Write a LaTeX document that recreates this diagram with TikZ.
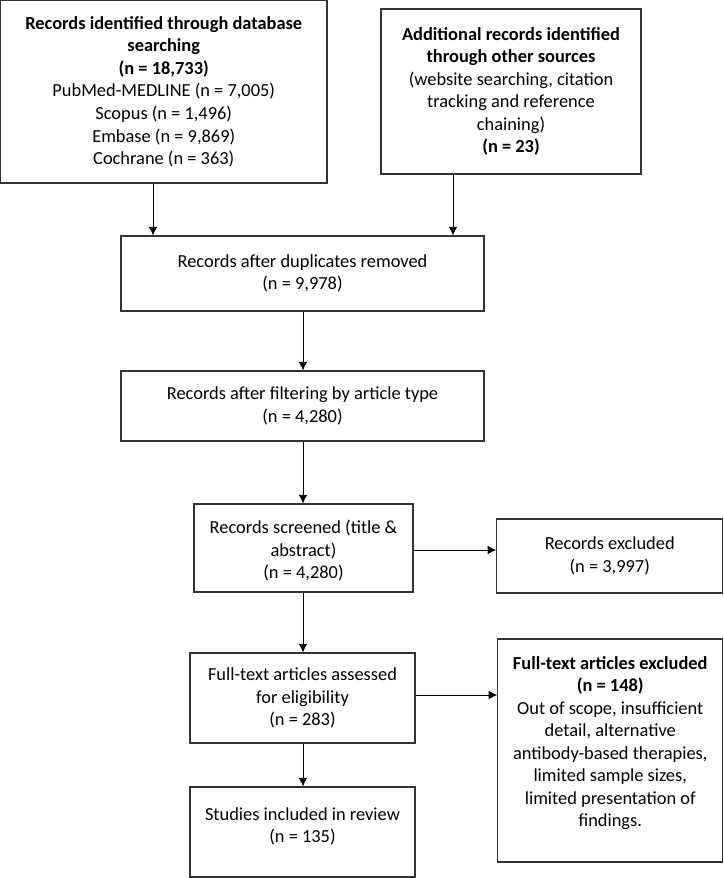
\documentclass[tikz,border=0pt]{standalone}
\usepackage{fontspec}
\setmainfont{Carlito}
\usetikzlibrary{arrows.meta}
\begin{document}
\begin{tikzpicture}[x=0.75pt, y=-0.75pt, >={Latex[length=6.5pt,width=6.5pt]},
    box/.style={draw=black!80, line width=0.8pt, align=center, inner sep=0pt,
        font=\fontsize{13.8}{16.9}\selectfont},
    flow/.style={->, line width=0.7pt}]
\useasboundingbox (0,0) rectangle (724,878);

% top row
\node[box, minimum width=244.9pt, minimum height=136.9pt] (db) at (163.75,91.75)
    {\textbf{Records identified through database}\\\textbf{searching}\\\textbf{(n = 18,733)}\\
     PubMed-MEDLINE (n = 7,005)\\Scopus (n = 1,496)\\Embase (n = 9,869)\\Cochrane (n = 363)};
\node[box, minimum width=195pt, minimum height=123.75pt] (other) at (511,91.5)
    {\textbf{Additional records identified}\\\textbf{through other sources}\\
     (website searching, citation\\tracking and reference\\chaining)\\\textbf{(n = 23)}};

% main column
\node[box, minimum width=272.25pt, minimum height=56.25pt] (dup) at (302.5,273.5)
    {Records after duplicates removed\\(n = 9,978)};
\node[box, minimum width=272.25pt, minimum height=52.5pt] (filt) at (302.5,406)
    {Records after filtering by article type\\(n = 4,280)};
\node[box, minimum width=164.25pt, minimum height=66pt] (scr) at (303.5,548)
    {Records screened (title \&\\abstract)\\(n = 4,280)\\[-19pt]};
\node[box, minimum width=168.75pt, minimum height=67.5pt] (full) at (302.5,698)
    {Full-text articles assessed\\for eligibility\\(n = 283)};
\node[box, minimum width=168.75pt, minimum height=67.5pt] (incl) at (302.5,832)
    {Studies included in review\\(n = 135)\\[-6.5pt]};

% exclusions
\node[box, minimum width=169.5pt, minimum height=55.5pt] (exc) at (609.75,556)
    {Records excluded\\(n = 3,997)};
\node[box, minimum width=168.75pt, minimum height=167.25pt] (ftexc) at (610.25,750.5)
    {\textbf{Full-text articles excluded}\\\textbf{(n = 148)}\\Out of scope, insufficient\\detail, alternative\\
     antibody-based therapies,\\limited sample sizes,\\limited presentation of\\findings.\\[-3.5pt]};

\coordinate (c1) at (153,0);
\coordinate (c2) at (453,0);
\coordinate (c3) at (303,0);
\coordinate (r1) at (0,550);
\coordinate (r2) at (0,695);

\draw[flow] (db.south -| c1) -- (dup.north -| c1);
\draw[flow] (other.south -| c2) -- (dup.north -| c2);
\draw[flow] (dup.south -| c3) -- (filt.north -| c3);
\draw[flow] (filt.south -| c3) -- (scr.north -| c3);
\draw[flow] (scr.south -| c3) -- (full.north -| c3);
\draw[flow] (full.south -| c3) -- (incl.north -| c3);
\draw[flow] (scr.east |- r1) -- (exc.west |- r1);
\draw[flow] (full.east |- r2) -- (ftexc.west |- r2);
\end{tikzpicture}
\end{document}
